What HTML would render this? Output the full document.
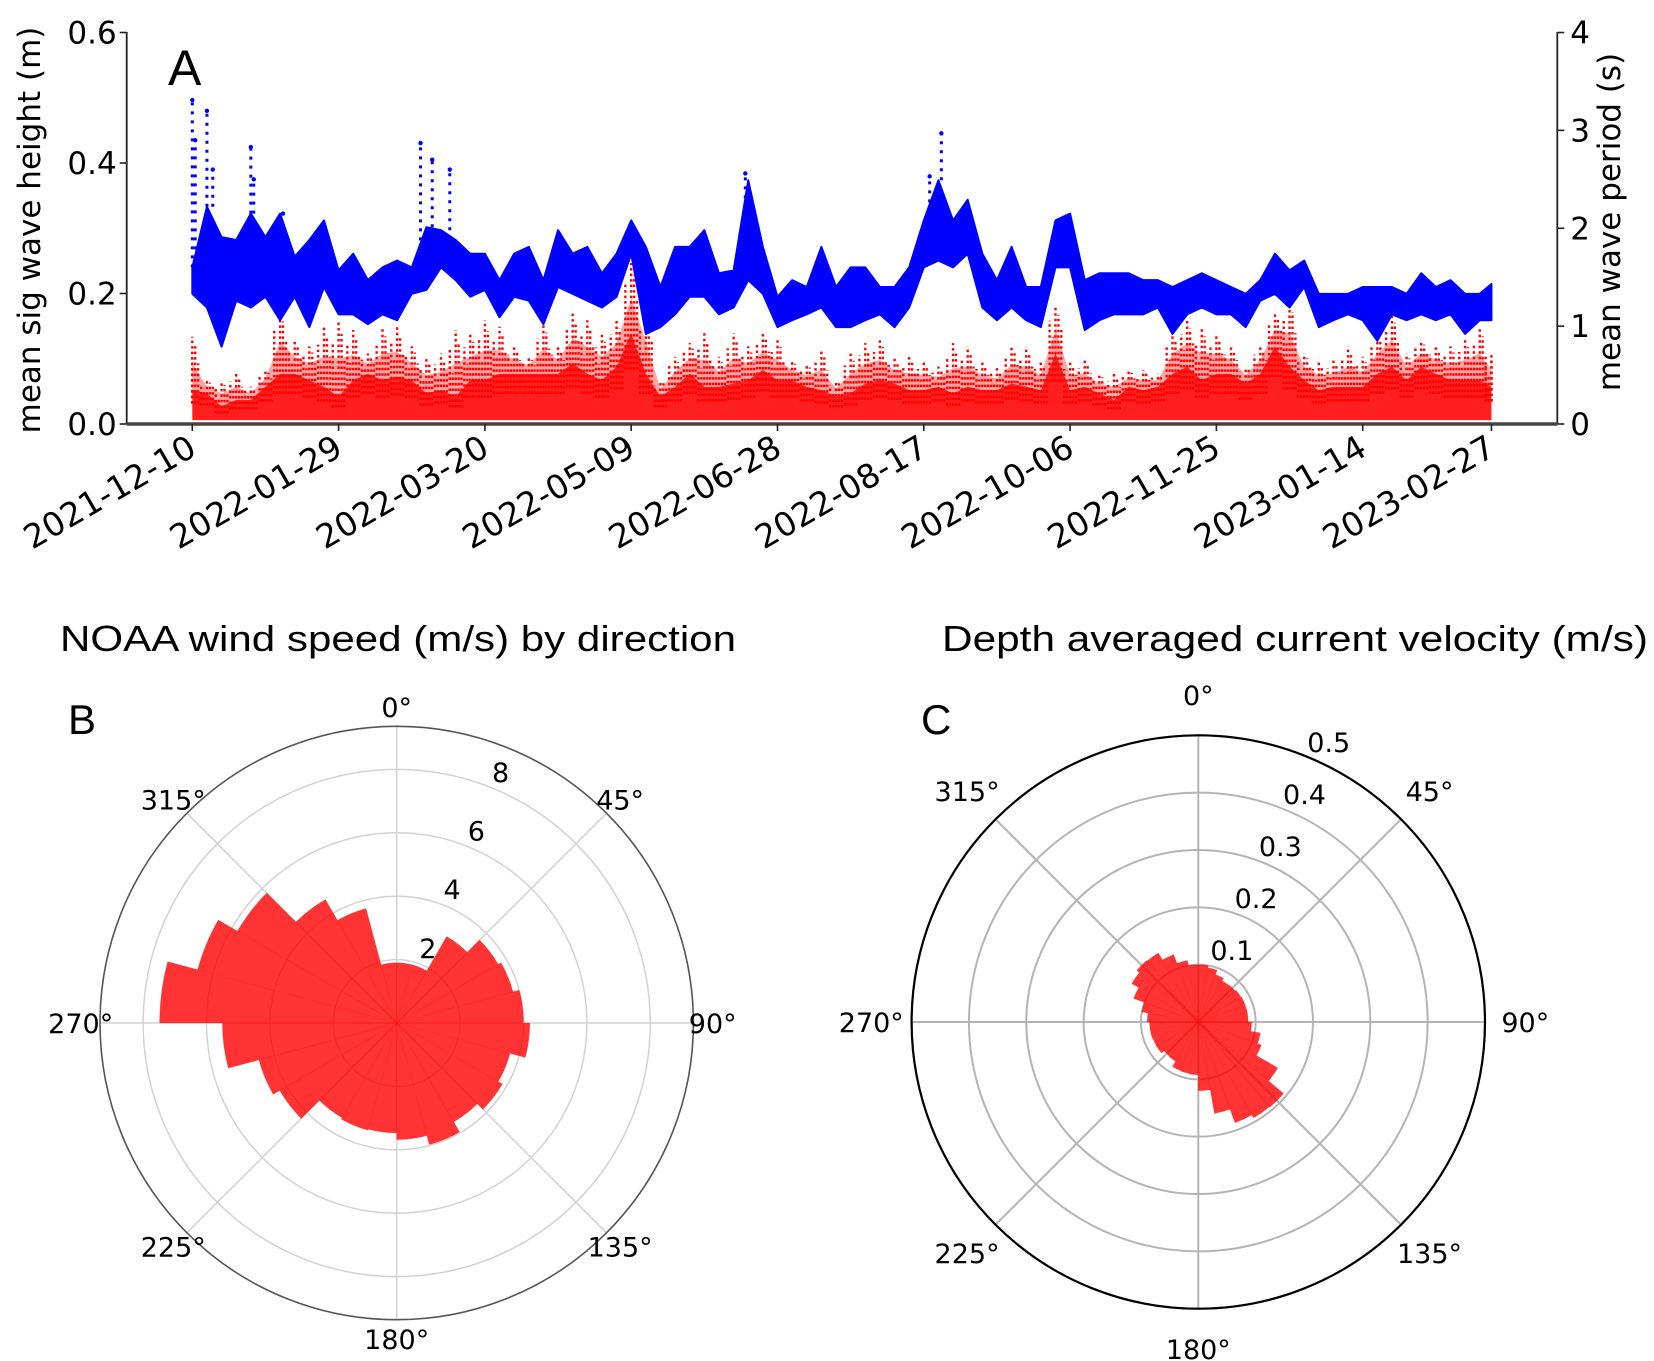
<!DOCTYPE html>
<html><head><meta charset="utf-8"><style>
html,body{margin:0;padding:0;background:#fff;}
svg{display:block;}
text{font-family:"DejaVu Sans","Liberation Sans",sans-serif;fill:#000;}
.t2{font-family:"Liberation Sans",sans-serif;}
</style></head><body>
<svg id="fig" width="1654" height="1361" viewBox="0 0 1654 1361" xmlns="http://www.w3.org/2000/svg">
<g id="panelA"></g>
<g id="panelB"></g>
<g id="panelC"></g>
</svg>
<script>
// ---------- Panel A data ----------
const tickLabels = ["2021-12-10","2022-01-29","2022-03-20","2022-05-09","2022-06-28","2022-08-17","2022-10-06","2022-11-25","2023-01-14","2023-02-27"];
const tickDays = [0,50,100,150,200,250,300,350,400,444];
const leftTicks = [0.0,0.2,0.4,0.6];
const rightTicks = [0,1,2,3,4];
const stepDays = [0,5,10,15,20,25,30,35,40,45,50,55,60,65,70,75,80,85,90,95,100,105,110,115,120,125,130,135,140,145,150,155,160,165,170,175,180,185,190,195,200,205,210,215,220,225,230,235,240,245,250,255,260,265,270,275,280,285,290,295,300,305,310,315,320,325,330,335,340,345,350,355,360,365,370,375,380,385,390,395,400,405,410,415,420,425,430,435,440,444];
const periodLow = [1.33,1.19,0.79,1.26,1.19,1.30,1.06,1.30,0.99,1.40,1.12,1.12,1.02,1.12,1.06,1.33,1.37,1.60,1.47,1.30,1.37,1.09,1.30,1.26,1.02,1.40,1.33,1.26,1.19,1.30,1.74,0.92,0.99,1.12,1.30,1.30,1.12,1.19,1.47,1.33,0.99,1.06,1.12,1.19,0.99,0.99,1.06,1.12,0.99,1.19,1.60,1.67,1.60,1.74,1.19,1.06,1.19,1.06,0.99,1.60,1.60,0.96,1.06,1.12,1.12,1.12,1.19,0.92,1.12,1.19,1.12,1.12,0.99,1.26,1.33,1.19,1.40,0.99,1.06,1.12,1.06,0.85,1.12,1.06,1.12,1.06,1.12,0.92,1.06,1.06];
const periodHigh = [1.60,2.22,1.91,1.88,2.15,1.91,2.15,1.71,1.88,2.08,1.57,1.74,1.47,1.60,1.67,1.60,2.01,1.98,1.88,1.74,1.74,1.47,1.74,1.81,1.47,1.98,1.74,1.81,1.54,1.74,2.08,1.81,1.40,1.81,1.81,1.98,1.54,1.57,2.49,1.81,1.30,1.47,1.40,1.81,1.40,1.60,1.60,1.40,1.40,1.60,2.08,2.49,2.08,2.29,1.74,1.47,1.81,1.40,1.40,2.08,2.15,1.47,1.54,1.54,1.54,1.47,1.47,1.40,1.47,1.54,1.47,1.40,1.33,1.47,1.74,1.57,1.67,1.33,1.33,1.33,1.40,1.40,1.40,1.33,1.54,1.40,1.47,1.33,1.33,1.43];
const spikeDays = [0,1,5,7,20,21,31,78,82,88,189,252,256];
const spikePeriods = [3.31,2.9,3.2,2.6,2.83,2.5,2.15,2.87,2.7,2.6,2.56,2.53,2.97];
const heightDense = [0.052,0.047,0.027,0.037,0.037,0.057,0.077,0.077,0.067,0.057,0.042,0.067,0.077,0.067,0.072,0.067,0.047,0.052,0.042,0.067,0.067,0.077,0.077,0.077,0.077,0.077,0.093,0.077,0.067,0.088,0.139,0.077,0.042,0.057,0.077,0.057,0.057,0.062,0.067,0.083,0.067,0.067,0.057,0.052,0.042,0.047,0.062,0.067,0.062,0.052,0.052,0.057,0.047,0.057,0.052,0.052,0.062,0.057,0.052,0.108,0.052,0.057,0.047,0.037,0.057,0.052,0.057,0.077,0.088,0.067,0.077,0.077,0.062,0.077,0.119,0.088,0.067,0.052,0.057,0.057,0.057,0.077,0.088,0.067,0.088,0.077,0.067,0.067,0.067,0.057];
const heightMax = [0.134,0.067,0.067,0.077,0.057,0.083,0.175,0.129,0.119,0.149,0.159,0.144,0.108,0.149,0.149,0.119,0.103,0.108,0.144,0.139,0.159,0.149,0.119,0.103,0.154,0.119,0.170,0.159,0.139,0.159,0.247,0.175,0.067,0.103,0.124,0.139,0.103,0.139,0.119,0.139,0.129,0.098,0.093,0.113,0.067,0.108,0.124,0.129,0.103,0.103,0.098,0.088,0.124,0.119,0.098,0.088,0.119,0.119,0.098,0.180,0.098,0.098,0.077,0.077,0.083,0.083,0.077,0.139,0.159,0.149,0.139,0.119,0.088,0.119,0.170,0.190,0.108,0.098,0.098,0.119,0.103,0.139,0.170,0.108,0.129,0.119,0.119,0.129,0.149,0.108];

// ---------- Panel B / C data ----------
const windBinStart = [0,15,30,45,60,75,90,105,120,135,150,165,180,195,210,225,240,255,270,285,300,315,330,345];
const windSpeed = [1.9,1.9,3.15,3.7,3.8,4.0,4.2,3.7,3.85,3.6,3.97,3.68,3.47,3.5,3.45,4.26,4.5,5.5,7.48,6.5,5.8,4.5,3.74,1.9];
const windRings = [2,4,6,8];
const curBinStart = [0,10,20,30,40,50,60,70,80,90,100,110,120,130,140,150,160,170,180,190,200,210,220,230,240,250,260,270,280,290,300,310,320,330,340,350];
const curSpeed = [0.1,0.096,0.088,0.083,0.084,0.086,0.087,0.087,0.087,0.093,0.11,0.117,0.16,0.194,0.193,0.187,0.162,0.12,0.092,0.091,0.09,0.079,0.078,0.084,0.084,0.085,0.085,0.089,0.1,0.12,0.134,0.14,0.139,0.125,0.109,0.1];
const curRings = [0.1,0.2,0.3,0.4,0.5];
const angleLabels = [0,45,90,135,180,225,270,315];

const NS="http://www.w3.org/2000/svg";
function mk(tag,attrs,parent){const e=document.createElementNS(NS,tag);for(const k in attrs)e.setAttribute(k,attrs[k]);parent.appendChild(e);return e;}

// ---------- Panel A ----------
const A=document.getElementById('panelA');
const X0=192.3, PXD=2.926, Y0=424, PXM=652.5;
const xd=d=>X0+d*PXD;
const yh=v=>Y0-v*PXM;
const yp=p=>yh(p*0.15);

// red dense band
let pts=stepDays.map((d,i)=>xd(d)+','+yh(heightDense[i])).join(' ');
pts+=' '+xd(444)+','+yh(0.006)+' '+xd(0)+','+yh(0.006);
let e=mk('polygon',{points:pts,fill:'#ff0000','fill-opacity':'0.88'},A);


// upper speckle layer
let pts2=stepDays.map((d,i)=>xd(d)+','+yh((heightDense[i]+heightMax[i])/2)).join(' ');
pts2+=' '+stepDays.slice().reverse().map((d,j)=>xd(d)+','+yh(heightDense[stepDays.length-1-j])).join(' ');
e=mk('polygon',{points:pts2,fill:'#ff0000','fill-opacity':'0.35'},A);


// red spike columns
const spikesG=mk('g',{},A);


stepDays.forEach((d,i)=>{
  const lo=heightDense[i], hi=heightMax[i];
  [[0,1],[-2,0.7],[2,0.5],[-1,0.35],[1,0.82]].forEach(([off,f])=>{
    const x=xd(Math.max(0,Math.min(444,d+off)));
    const l=mk('line',{x1:x,x2:x,y1:yh(lo*0.6),y2:yh(lo+(hi-lo)*f),stroke:'#ff0000','stroke-width':'2.4','stroke-dasharray':'2.5 3'},spikesG);
    
    
  });
});
// blue band
let bp=stepDays.map((d,i)=>xd(d)+','+yp(periodHigh[i])).join(' ');
bp+=' '+stepDays.slice().reverse().map((d,j)=>xd(d)+','+yp(periodLow[stepDays.length-1-j])).join(' ');
e=mk('polygon',{points:bp,fill:'#0000ff',stroke:'#0000ff','stroke-width':'2','stroke-linejoin':'round'},A);


spikeDays.forEach((d,i)=>{
  const x=xd(d);
  let ib=0; for(let k=0;k<stepDays.length;k++){if(stepDays[k]<=d)ib=k;}
  const l=mk('line',{x1:x,x2:x,y1:yp(periodHigh[ib]),y2:yp(spikePeriods[i]),stroke:'#0000ff','stroke-width':'3','stroke-dasharray':'3 6'},A);
  
  
  const c=mk('circle',{cx:x,cy:yp(spikePeriods[i]),r:2.2,fill:'#0000ff'},A);
  
  
});
// axes
const XL=126.7, XR=1557.3;
e=mk('line',{x1:XL,x2:XL,y1:32,y2:Y0,stroke:'#222','stroke-width':'1.8'},A);

e=mk('line',{x1:XR,x2:XR,y1:32,y2:Y0,stroke:'#222','stroke-width':'1.8'},A);

e=mk('line',{x1:XL,x2:XR,y1:Y0,y2:Y0,stroke:'#444','stroke-width':'3.5'},A);

leftTicks.forEach(v=>{
  const y=yh(v);
  mk('line',{x1:XL-7,x2:XL,y1:y,y2:y,stroke:'#222','stroke-width':'1.6'},A);
  const t=mk('text',{x:XL-10,y:y+11,'text-anchor':'end','font-size':'31'},A);
  t.textContent=v.toFixed(1);
  
  
});
rightTicks.forEach(v=>{
  const y=yp(v);
  mk('line',{x1:XR,x2:XR+7,y1:y,y2:y,stroke:'#222','stroke-width':'1.6'},A);
  const t=mk('text',{x:XR+13,y:y+11,'text-anchor':'start','font-size':'31'},A);
  t.textContent=String(v);
  
  
});
tickDays.forEach((d,i)=>{
  const x=xd(d);
  mk('line',{x1:x,x2:x,y1:Y0,y2:Y0+7,stroke:'#222','stroke-width':'1.6'},A);
  const t=mk('text',{x:x+6,y:Y0+30,'text-anchor':'end','font-size':'33',transform:`rotate(-30 ${x+6} ${Y0+30})`},A);
  t.textContent=tickLabels[i];
  
  
});
e=mk('text',{x:0,y:0,'text-anchor':'middle','font-size':'31',transform:'translate(40 230) rotate(-90)'},A);
e.textContent='mean sig wave height (m)';

e=mk('text',{x:0,y:0,'text-anchor':'middle','font-size':'31',transform:'translate(1620 222) rotate(-90)'},A);
e.textContent='mean wave period (s)';

e=mk('text',{x:168,y:85,'font-size':'50',class:'t2'},A);
e.textContent='A';


// ---------- Polar helper ----------
function polar(G,cx,cy,R,rmax,rings,ringFmt,ringAng,ringPad,bins,vals,width,labDist,gridColor,gridW,outerColor,outerW){
  const sc=R/rmax;
  const P=(a,r)=>[cx+r*Math.sin(a*Math.PI/180), cy-r*Math.cos(a*Math.PI/180)];
  rings.forEach(r=>{
    const c=mk('circle',{cx,cy,r:r*sc,fill:'none',stroke:gridColor,'stroke-width':gridW},G);
    
  });
  angleLabels.forEach(a=>{
    const [x,y]=P(a,R);
    const l=mk('line',{x1:cx,y1:cy,x2:x,y2:y,stroke:gridColor,'stroke-width':gridW},G);
    
  });
  bins.forEach((a,i)=>{
    const r=vals[i]*sc;
    const [x1,y1]=P(a,r), [x2,y2]=P(a+width,r);
    const p=mk('path',{d:`M${cx},${cy} L${x1},${y1} A${r},${r} 0 0 1 ${x2},${y2} Z`,fill:'#ff0000','fill-opacity':'0.8',stroke:'#ff0000','stroke-opacity':'0.25','stroke-width':'0.6'},G);
    
  });
  const o=mk('circle',{cx,cy,r:R,fill:'none',stroke:outerColor,'stroke-width':outerW},G);
  
  angleLabels.forEach(a=>{
    const [x,y]=P(a,labDist);
    const t=mk('text',{x,y:y+10,'text-anchor':'middle','font-size':'27'},G);
    t.textContent=a+'°';
    
  });
  rings.forEach(r=>{
    const [x,y]=P(ringAng,r*sc+ringPad);
    const t=mk('text',{x,y:y+10,'text-anchor':'middle','font-size':'27'},G);
    t.textContent=ringFmt(r);
    
  });
}

// ---------- Panel B ----------
const B=document.getElementById('panelB');
polar(B,396.7,1023,296.7,9.36,windRings,r=>String(r),22.5,18,windBinStart,windSpeed,15,316,'#d2d2d2','1.5','#555','1.6');
e=mk('text',{x:60,y:651,'font-size':'36',class:'t2',textLength:'676',lengthAdjust:'spacingAndGlyphs'},B);
e.textContent='NOAA wind speed (m/s) by direction';

e=mk('text',{x:68,y:734,'font-size':'42',class:'t2'},B);
e.textContent='B';


// ---------- Panel C ----------
const C=document.getElementById('panelC');
polar(C,1198.3,1022,286.7,0.5,curRings,r=>r.toFixed(1),25,22,curBinStart,curSpeed,10,327,'#b4b4b4','2','#000','2.2');
e=mk('text',{x:942,y:651,'font-size':'36',class:'t2',textLength:'706',lengthAdjust:'spacingAndGlyphs'},C);
e.textContent='Depth averaged current velocity (m/s)';

e=mk('text',{x:921,y:734,'font-size':'42',class:'t2'},C);
e.textContent='C';

</script>
</body></html>
